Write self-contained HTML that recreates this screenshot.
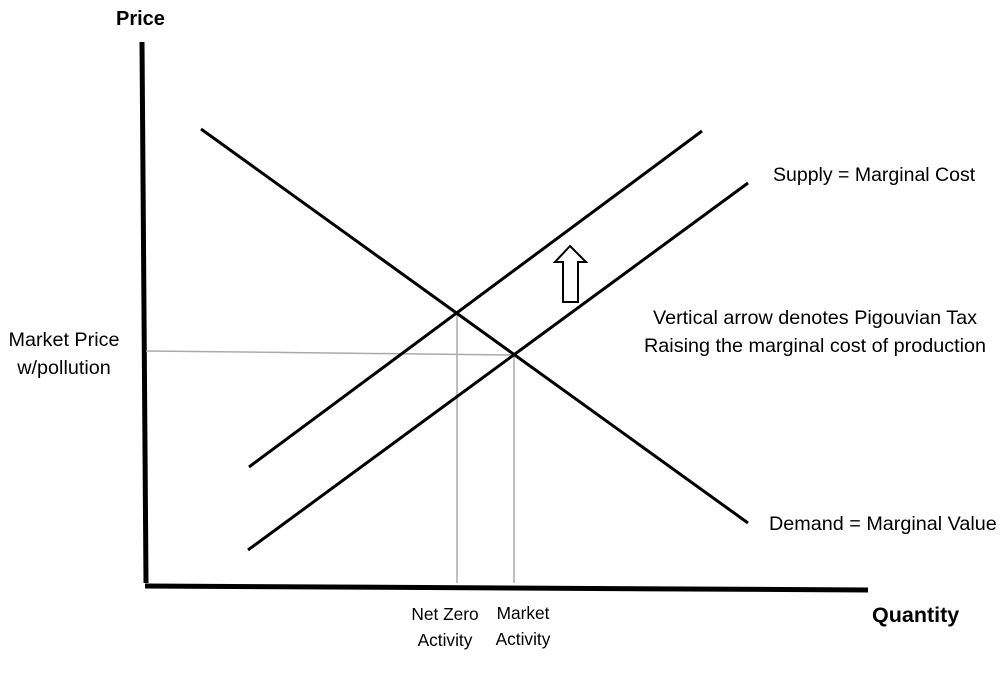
<!DOCTYPE html>
<html><head><style>
body{margin:0;background:#fff;}
svg text{font-family:"Liberation Sans",sans-serif;fill:#000;}
</style></head><body>
<svg width="1004" height="668" viewBox="0 0 1004 668" xmlns="http://www.w3.org/2000/svg">
<line x1="142" y1="42" x2="146" y2="583" stroke="#000" stroke-width="5"/>
<line x1="145" y1="586" x2="868" y2="590" stroke="#000" stroke-width="5"/>
<line x1="146" y1="351" x2="514" y2="355" stroke="#aaa" stroke-width="1.5"/>
<line x1="457" y1="313" x2="457" y2="583" stroke="#aaa" stroke-width="1.5"/>
<line x1="514" y1="355" x2="514" y2="583" stroke="#aaa" stroke-width="1.5"/>
<line x1="201" y1="129" x2="748" y2="523" stroke="#000" stroke-width="3"/>
<line x1="249" y1="467" x2="702" y2="131" stroke="#000" stroke-width="3"/>
<line x1="248" y1="550" x2="748" y2="183" stroke="#000" stroke-width="3"/>
<polygon points="570,246 586,262 578,262 578,302 563,302 563,262 555,262" fill="#fff" stroke="#000" stroke-width="2"/>
<text x="116" y="25" font-size="20" font-weight="bold">Price</text>
<text x="872" y="622" font-size="21.5" font-weight="bold">Quantity</text>
<text x="773" y="181" font-size="19.5">Supply = Marginal Cost</text>
<text x="769" y="530" font-size="19.8">Demand = Marginal Value</text>
<text x="815" y="324" font-size="19.8" text-anchor="middle">Vertical arrow denotes Pigouvian Tax</text>
<text x="815" y="352" font-size="19.8" text-anchor="middle">Raising the marginal cost of production</text>
<text x="64" y="346" font-size="19.8" text-anchor="middle">Market Price</text>
<text x="64" y="374" font-size="19.8" text-anchor="middle">w/pollution</text>
<text x="445" y="620" font-size="17.3" text-anchor="middle">Net Zero</text>
<text x="445" y="646" font-size="17.3" text-anchor="middle">Activity</text>
<text x="523" y="619" font-size="17.3" text-anchor="middle">Market</text>
<text x="523" y="645" font-size="17.3" text-anchor="middle">Activity</text>
</svg>
</body></html>
